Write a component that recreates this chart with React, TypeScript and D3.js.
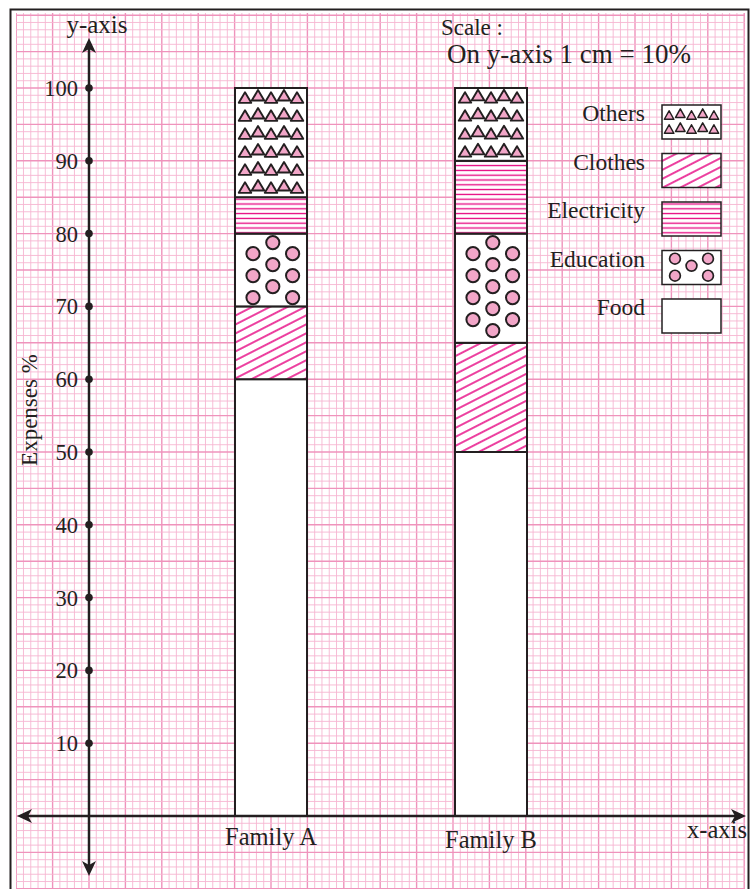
import React from "react";
import * as d3 from "d3";

const families = ["Family A", "Family B"];
const categories = ["Food", "Clothes", "Education", "Electricity", "Others"];
const familyA = [60, 10, 10, 5, 15];
const familyB = [50, 15, 15, 10, 10];
const yTicks = [10, 20, 30, 40, 50, 60, 70, 80, 90, 100];
const legendOrder = ["Others", "Clothes", "Electricity", "Education", "Food"];

const W = 752;
const H = 889;
const INK = "#231f20";
const MAGENTA = "#e6007e";
const PINK = "#f2a6c8";
const FONT = "'Liberation Serif', 'Times New Roman', serif";

const y = d3.scaleLinear().domain([0, 100]).range([816, 88]);
const mm = (y(0) - y(10)) / 10; // one grid unit
const x0 = 89; // y-axis position
const xBand = d3
  .scaleBand<string>()
  .domain(families)
  .range([161, 601])
  .paddingInner(0.6727)
  .paddingOuter(0.3364);

const seriesByFamily: Record<string, number[]> = {
  "Family A": familyA,
  "Family B": familyB,
};

type Seg = { fam: string; cat: string; x: number; w: number; top: number; bottom: number };

function buildSegments(): Seg[] {
  const segs: Seg[] = [];
  families.forEach((fam) => {
    const vals = seriesByFamily[fam];
    let acc = 0;
    vals.forEach((v, i) => {
      const lo = acc;
      acc += v;
      segs.push({
        fam,
        cat: categories[i],
        x: xBand(fam)!,
        w: xBand.bandwidth(),
        top: y(acc),
        bottom: y(lo),
      });
    });
  });
  return segs;
}

function triPath(cx: number, cy: number, tw: number, th: number) {
  return `M${cx - tw / 2},${cy + th / 2}L${cx},${cy - th / 2}L${cx + tw / 2},${cy + th / 2}Z`;
}

function Triangles({ x, top, w, h, cellW, cellH, tw, th, sw }: any) {
  const cols = Math.floor(w / cellW);
  const rows = Math.floor(h / cellH);
  const offX = x + (w - cols * cellW) / 2 + cellW / 2;
  const offY = top + (h - rows * cellH) / 2 + cellH / 2;
  const items: JSX.Element[] = [];
  d3.range(rows).forEach((r) =>
    d3.range(cols).forEach((c) => {
      const cx = offX + c * cellW;
      const cy = offY + r * cellH - (c % 2 === 1 ? th * 0.22 : 0);
      items.push(
        <path key={`${r}-${c}`} d={triPath(cx, cy, tw, th)} fill={PINK} stroke={INK} strokeWidth={sw} strokeLinejoin="round" />
      );
    })
  );
  return <g>{items}</g>;
}

function BarCircles({ x, top, bottom, w }: any) {
  const r = 6.6;
  const spacing = 22;
  const cols = [
    { fx: 0.25, start: 20 },
    { fx: 0.525, start: 9 },
    { fx: 0.8, start: 20 },
  ];
  const items: JSX.Element[] = [];
  cols.forEach((col, ci) => {
    for (let cy = top + col.start; cy + r + 2 <= bottom; cy += spacing) {
      items.push(
        <circle key={`${ci}-${cy}`} cx={x + col.fx * w} cy={cy} r={r} fill={PINK} stroke={INK} strokeWidth={2} />
      );
    }
  });
  return <g>{items}</g>;
}

function LegendCircles({ x, top, w, h }: any) {
  const r = 5.4;
  const pts = [
    [0.22, 0.24],
    [0.78, 0.24],
    [0.5, 0.45],
    [0.22, 0.74],
    [0.78, 0.74],
  ];
  return (
    <g>
      {pts.map(([fx, fy], i) => (
        <circle key={i} cx={x + fx * w} cy={top + fy * h} r={r} fill={PINK} stroke={INK} strokeWidth={1.7} />
      ))}
    </g>
  );
}

function Fill({ cat, x, top, w, h, legend }: any) {
  const bottom = top + h;
  return (
    <g>
      <rect x={x} y={top} width={w} height={h} fill="#fff" />
      {cat === "Clothes" && <rect x={x} y={top} width={w} height={h} fill="url(#hatch)" />}
      {cat === "Electricity" && <rect x={x} y={top} width={w} height={h} fill="url(#hlines)" />}
      {cat === "Others" &&
        (legend ? (
          <Triangles x={x} top={top} w={w} h={h} cellW={11.2} cellH={14} tw={9.5} th={8.5} sw={1.5} />
        ) : (
          <Triangles x={x} top={top} w={w} h={h} cellW={13} cellH={18} tw={12.5} th={10.5} sw={1.9} />
        ))}
      {cat === "Education" &&
        (legend ? <LegendCircles x={x} top={top} w={w} h={h} /> : <BarCircles x={x} top={top} bottom={bottom} w={w} />)}
    </g>
  );
}

export default function App() {
  const segs = buildSegments();
  const gridL = 16, gridR = 745, gridT = 13, gridB = 889;
  const vLines = d3.range(-12, 95).map((k) => ({ k, v: x0 + k * mm })).filter((d) => d.v >= gridL - 0.5 && d.v <= gridR + 0.5);
  const hLines = d3.range(-12, 115).map((k) => ({ k, v: y(0) - k * mm })).filter((d) => d.v >= gridT - 0.5 && d.v <= gridB + 0.5);

  const legX = 662, legW = 59, legH = 34, legTop = 105, legStep = 48.5;

  const axisY = y(0);
  const upTip = 38, downTip = 876, leftTip = 17, rightTip = 746;
  const ah = 15, aw = 7, an = 11;

  return (
    <svg width={W} height={H} style={{ position: "absolute", left: 0, top: 0, display: "block", background: "#fff" }} fontFamily={FONT}>
      <defs>
        <pattern id="hatch" patternUnits="userSpaceOnUse" width={8} height={8} patternTransform="rotate(-27)">
          <line x1={-1} y1={4} x2={9} y2={4} stroke={MAGENTA} strokeWidth={1.5} />
        </pattern>
        <pattern id="hlines" patternUnits="userSpaceOnUse" width={10} height={4.8}>
          <line x1={-1} y1={2.4} x2={11} y2={2.4} stroke={MAGENTA} strokeWidth={1.3} />
        </pattern>
        <clipPath id="gridclip">
          <rect x={gridL} y={gridT} width={gridR - gridL} height={gridB - gridT} />
        </clipPath>
      </defs>
      <rect x={0} y={0} width={W} height={H} fill="#fff" />
      {/* graph paper */}
      <g clipPath="url(#gridclip)">
        {vLines.map((d) => (
          <line key={`v${d.k}`} x1={d.v} x2={d.v} y1={gridT} y2={gridB}
            stroke={d.k % 5 === 0 ? "#ef93bc" : "#f6b6d1"} strokeWidth={d.k % 5 === 0 ? 1.4 : 0.9} />
        ))}
        {hLines.map((d) => (
          <line key={`h${d.k}`} y1={d.v} y2={d.v} x1={gridL} x2={gridR}
            stroke={d.k % 5 === 0 ? "#ef93bc" : "#f6b6d1"} strokeWidth={d.k % 5 === 0 ? 1.4 : 0.9} />
        ))}
      </g>
      {/* frame */}
      <rect x={10.5} y={9.5} width={738} height={920} fill="none" stroke={INK} strokeWidth={2} />

      {/* bars */}
      {segs.map((s, i) => (
        <g key={i}>
          <Fill cat={s.cat} x={s.x} top={s.top} w={s.w} h={s.bottom - s.top} legend={false} />
          <rect x={s.x} y={s.top} width={s.w} height={s.bottom - s.top} fill="none" stroke={INK} strokeWidth={2} />
        </g>
      ))}

      {/* axes */}
      <line x1={x0} x2={x0} y1={upTip + 8} y2={downTip - 8} stroke={INK} strokeWidth={2.5} />
      <line x1={leftTip + 8} x2={rightTip - 8} y1={axisY} y2={axisY} stroke={INK} strokeWidth={2.5} />
      <path d={`M${x0},${upTip}L${x0 + aw},${upTip + ah}L${x0},${upTip + an}L${x0 - aw},${upTip + ah}Z`} fill={INK} />
      <path d={`M${x0},${downTip}L${x0 + aw},${downTip - ah}L${x0},${downTip - an}L${x0 - aw},${downTip - ah}Z`} fill={INK} />
      <path d={`M${leftTip},${axisY}L${leftTip + ah},${axisY - aw}L${leftTip + an},${axisY}L${leftTip + ah},${axisY + aw}Z`} fill={INK} />
      <path d={`M${rightTip},${axisY}L${rightTip - ah},${axisY - aw}L${rightTip - an},${axisY}L${rightTip - ah},${axisY + aw}Z`} fill={INK} />

      {/* ticks */}
      {yTicks.map((t) => (
        <g key={t}>
          <circle cx={x0} cy={y(t)} r={3.8} fill={INK} />
          <text x={78} y={y(t) + 8} textAnchor="end" fontSize={22.5} fill={INK}>{t}</text>
        </g>
      ))}

      {/* axis labels */}
      <text x={97} y={33} textAnchor="middle" fontSize={25} fill={INK}>y-axis</text>
      <text x={717} y={838} textAnchor="middle" fontSize={24.5} fill={INK}>x-axis</text>
      <text transform="translate(37,410) rotate(-90)" textAnchor="middle" fontSize={23} fill={INK}>Expenses %</text>
      {families.map((f, i) => (
        <text key={f} x={xBand(f)! + xBand.bandwidth() / 2} y={845 + i * 3} textAnchor="middle" fontSize={24.5} fill={INK}>{f}</text>
      ))}

      {/* scale note */}
      <text x={441} y={35} fontSize={23} fill={INK}>Scale :</text>
      <text x={447} y={63} fontSize={27} fill={INK}>On y-axis 1 cm = 10%</text>

      {/* legend */}
      {legendOrder.map((cat, i) => {
        const top = legTop + i * legStep;
        return (
          <g key={cat}>
            <text x={645} y={top + 16} textAnchor="end" fontSize={23.5} fill={INK}>{cat}</text>
            <Fill cat={cat} x={legX} top={top} w={legW} h={legH} legend={true} />
            <rect x={legX} y={top} width={legW} height={legH} fill="none" stroke={INK} strokeWidth={1.5} />
          </g>
        );
      })}
    </svg>
  );
}
